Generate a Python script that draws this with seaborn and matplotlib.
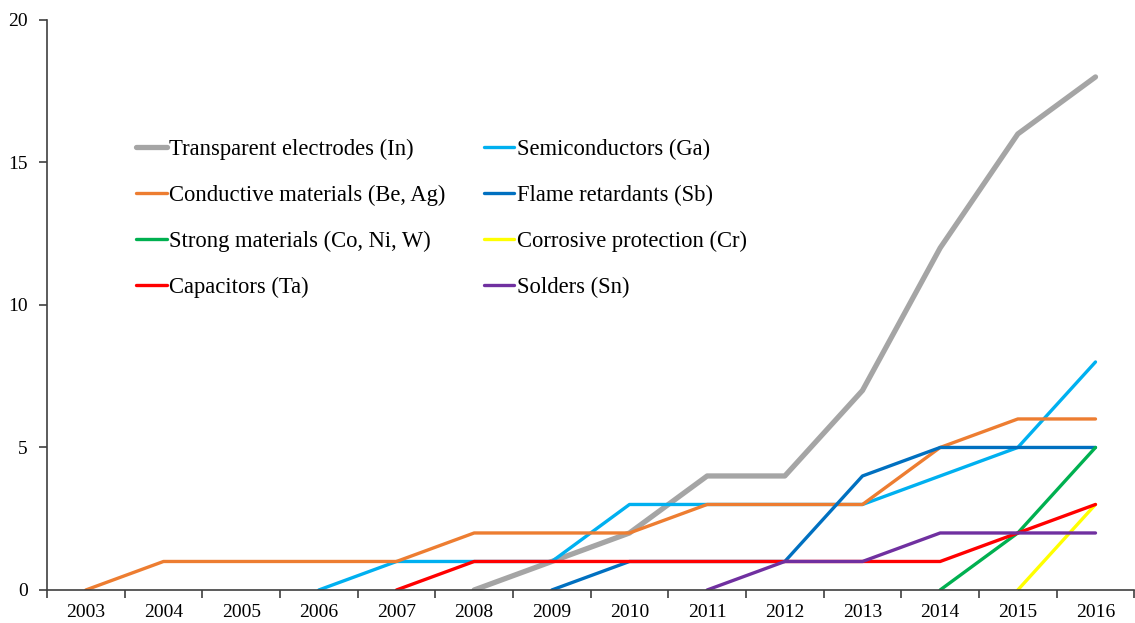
import numpy as np
import pandas as pd
import matplotlib
matplotlib.use("Agg")
import matplotlib.pyplot as plt
import seaborn as sns

nan = np.nan

years = [str(y) for y in range(2003, 2017)]

# values per year 2003..2016, nan where the series has not started yet
transparent = [nan, nan, nan, nan, nan, 0, 1, 2, 4, 4, 7, 12, 16, 18]
semiconductors = [nan, nan, nan, 0, 1, 1, 1, 3, 3, 3, 3, 4, 5, 8]
conductive = [0, 1, 1, 1, 1, 2, 2, 2, 3, 3, 3, 5, 6, 6]
flame = [nan, nan, nan, nan, nan, nan, 0, 1, 1, 1, 4, 5, 5, 5]
strong = [nan, nan, nan, nan, nan, nan, nan, nan, nan, nan, nan, 0, 2, 5]
corrosive = [nan, nan, nan, nan, nan, nan, nan, nan, nan, nan, nan, nan, 0, 3]
capacitors = [nan, nan, nan, nan, 0, 1, 1, 1, 1, 1, 1, 1, 2, 3]
solders = [nan, nan, nan, nan, nan, nan, nan, nan, 0, 1, 1, 2, 2, 2]

labels = ["Transparent electrodes (In)", "Semiconductors (Ga)",
          "Conductive materials (Be, Ag)", "Flame retardants (Sb)",
          "Strong materials (Co, Ni, W)", "Corrosive protection (Cr)",
          "Capacitors (Ta)", "Solders (Sn)"]
series = [transparent, semiconductors, conductive, flame,
          strong, corrosive, capacitors, solders]
colors = ["#A5A5A5", "#00B0F0", "#ED7D31", "#0070C0",
          "#00B050", "#FFFF00", "#FF0000", "#7030A0"]
widths = [3.8, 2.4, 2.4, 2.4, 2.4, 2.4, 2.4, 2.4]

sns.set_style("white")
plt.rcParams['font.family'] = ['Liberation Serif', 'DejaVu Serif']
plt.rcParams['text.color'] = 'black'
plt.rcParams['xtick.color'] = 'black'
plt.rcParams['ytick.color'] = 'black'

fig = plt.figure(figsize=(11.35, 6.23), dpi=100)
ax = fig.add_axes([0.0414, 0.053, 0.958, 0.915])

xpos = np.arange(len(years))
for lab, vals, col, lw in zip(labels, series, colors, widths):
    df = pd.DataFrame({'x': xpos, 'y': vals}).dropna()
    sns.lineplot(data=df, x='x', y='y', color=col, lw=lw, label=lab, ax=ax)

ax.set_xlim(-0.5, len(years) - 0.5)
ax.set_ylim(0, 20)
ax.set_yticks([0, 5, 10, 15, 20])
ax.set_xticks(np.arange(-0.5, len(years), 1))
ax.set_xticklabels([])
ax.set_xticks(xpos, minor=True)
ax.set_xticklabels(years, minor=True)
ax.tick_params(axis='x', which='major', bottom=True, length=6, width=1.2,
               color='#404040', direction='out')
ax.tick_params(axis='x', which='minor', bottom=False, length=0, pad=10, labelsize=14)
ax.tick_params(axis='y', left=True, length=6, width=1.2, color='#404040',
               direction='out', labelsize=14, pad=8)
ax.set_xlabel('')
ax.set_ylabel('')

for s in ['top', 'right']:
    ax.spines[s].set_visible(False)
for s in ['left', 'bottom']:
    ax.spines[s].set_color('#404040')
    ax.spines[s].set_linewidth(1.2)

# legend filled row by row like the original
h, l = ax.get_legend_handles_labels()
order = [0, 2, 4, 6, 1, 3, 5, 7]
ax.legend([h[i] for i in order], [l[i] for i in order], ncol=2, frameon=False,
          loc='upper left', bbox_to_anchor=(0.12, 0.777), bbox_transform=fig.transFigure,
          borderpad=0, borderaxespad=0,
          fontsize=16.3, handlelength=1.35, handletextpad=0.1,
          columnspacing=1.7, labelspacing=1.1)

fig.savefig('out.png', dpi=100)
